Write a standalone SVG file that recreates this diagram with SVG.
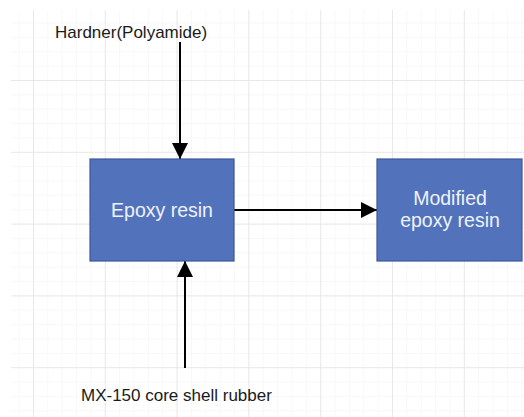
<svg xmlns="http://www.w3.org/2000/svg" width="524" height="417" viewBox="0 0 524 417">
<style>
.node rect{fill:#5273bc;stroke:#3c5899;stroke-width:1.2}
.ntext{font-family:"Liberation Sans",Arial,sans-serif;font-size:19.5px;fill:#eef2fa;text-anchor:middle}
.label{font-family:"Liberation Sans",Arial,sans-serif;font-size:17px;fill:#1a1a1a}
.conn{stroke:#000;stroke-width:2;fill:none}
</style>
<defs>
<pattern id="minor" patternUnits="userSpaceOnUse" x="33" y="8.2" width="14.36" height="14.36">
<path d="M0 0H14.36M0 0V14.36" stroke="#f1f1f1" stroke-width="1"/>
</pattern>
<pattern id="major" patternUnits="userSpaceOnUse" x="33" y="8.2" width="71.8" height="71.8">
<path d="M0 0H71.8M0 0V71.8" stroke="#e4e4e4" stroke-width="1.5"/>
</pattern>
<marker id="arrow" viewBox="0 0 16 16" refX="16" refY="8" markerWidth="16" markerHeight="16" markerUnits="userSpaceOnUse" orient="auto">
<path d="M0 0L16 8L0 16Z" fill="#000"/>
</marker>
</defs>
<rect width="524" height="417" fill="#fff"/>
<rect x="11" y="10" width="513" height="407" fill="url(#minor)"/>
<rect x="11" y="10" width="513" height="407" fill="url(#major)"/>
<g id="connectors">
<line class="conn" x1="180" y1="42" x2="180" y2="159" marker-end="url(#arrow)"/>
<line class="conn" x1="185" y1="368" x2="185" y2="261" marker-end="url(#arrow)"/>
<line class="conn" x1="234" y1="210" x2="377" y2="210" marker-end="url(#arrow)"/>
</g>
<g id="epoxy" class="node">
<rect x="90" y="159" width="144" height="102"/>
<text class="ntext" x="162" y="217">Epoxy resin</text>
</g>
<g id="modified" class="node">
<rect x="377" y="159" width="145" height="102"/>
<text class="ntext" x="450" y="205">Modified</text>
<text class="ntext" x="450" y="227">epoxy resin</text>
</g>
<g id="hardner">
<text class="label" x="55" y="38">Hardner(Polyamide)</text>
</g>
<g id="rubber">
<text class="label" x="81" y="401">MX-150 core shell rubber</text>
</g>
</svg>
